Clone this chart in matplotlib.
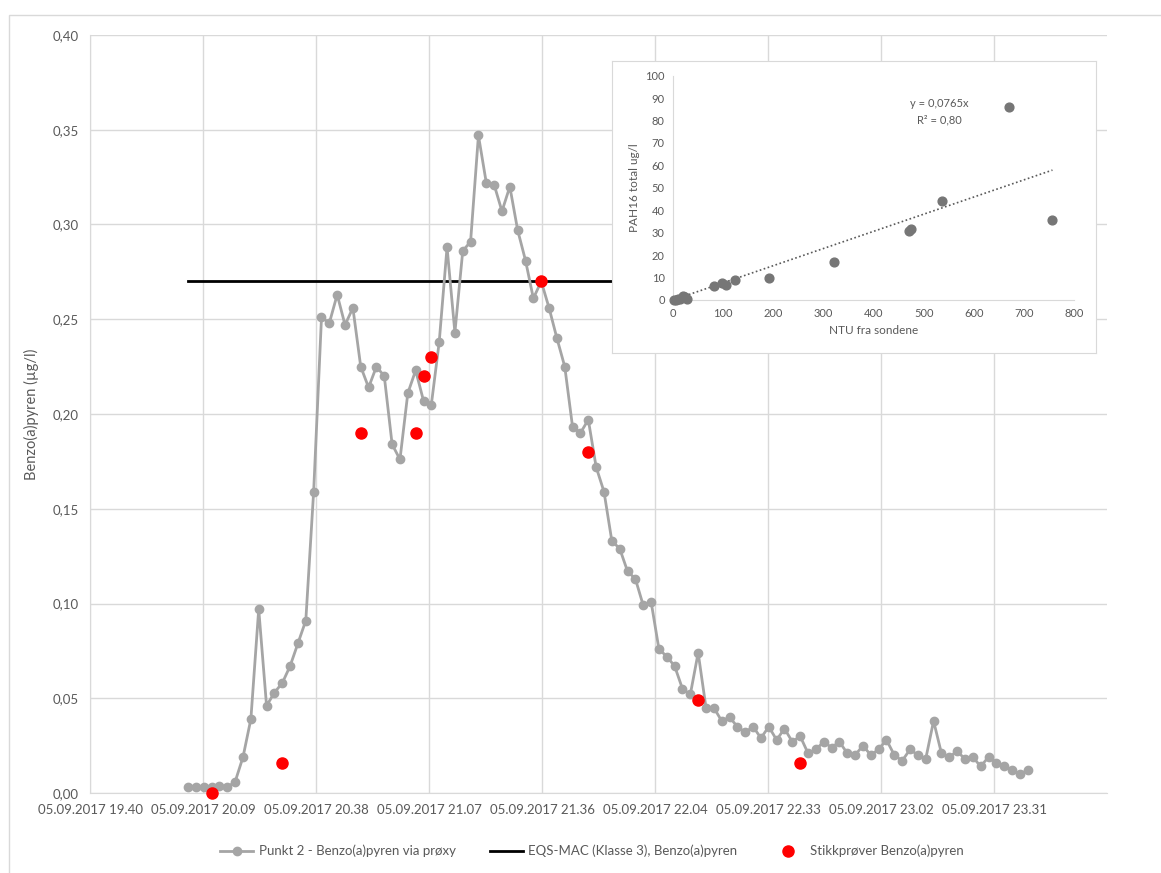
import numpy as np
import matplotlib.pyplot as plt
from matplotlib.lines import Line2D

plt.rcParams['font.family'] = ['Lato', 'DejaVu Sans']

# minutter etter 05.09.2017 19.40
tick_labels = ["05.09.2017 19.40", "05.09.2017 20.09", "05.09.2017 20.38",
               "05.09.2017 21.07", "05.09.2017 21.36", "05.09.2017 22.04",
               "05.09.2017 22.33", "05.09.2017 23.02", "05.09.2017 23.31"]
tick_step = 28.8
start_min = 25      # 20.05
step_min = 2

# Punkt 2 - Benzo(a)pyren via prøxy (µg/l), hvert 2. minutt
bap_proxy = [0.003, 0.003, 0.003, 0.003, 0.0035, 0.003, 0.006, 0.019, 0.039, 0.097,
             0.046, 0.053, 0.058, 0.067, 0.079, 0.091, 0.159, 0.251, 0.248, 0.263,
             0.247, 0.256, 0.225, 0.214, 0.225, 0.220, 0.184, 0.176, 0.211, 0.223,
             0.207, 0.205, 0.238, 0.288, 0.243, 0.286, 0.291, 0.347, 0.322, 0.321,
             0.307, 0.320, 0.297, 0.281, 0.261, 0.270, 0.256, 0.240, 0.225, 0.193,
             0.190, 0.197, 0.172, 0.159, 0.133, 0.129, 0.117, 0.113, 0.099, 0.101,
             0.076, 0.072, 0.067, 0.055, 0.052, 0.074, 0.045, 0.045, 0.038, 0.040,
             0.035, 0.032, 0.035, 0.029, 0.035, 0.028, 0.034, 0.027, 0.030, 0.021,
             0.023, 0.027, 0.024, 0.027, 0.021, 0.020, 0.025, 0.020, 0.023, 0.028,
             0.020, 0.017, 0.023, 0.020, 0.018, 0.038, 0.021, 0.019, 0.022, 0.018,
             0.019, 0.014, 0.019, 0.016, 0.014, 0.012, 0.010, 0.012]

# Stikkprøver
sample_min = [31, 49, 69, 83, 85, 87, 115, 127, 155, 181]
sample_val = [0.0, 0.016, 0.19, 0.19, 0.22, 0.23, 0.27, 0.18, 0.049, 0.016]

eqs_mac = 0.27

# innfelt: NTU mot PAH16
ntu = [2, 5, 9, 14, 20, 23, 27, 81, 97, 106, 123, 192, 322, 470, 474, 536, 670, 757]
pah16 = [0.1, 0.0, 0.3, 0.6, 1.6, 1.2, 0.4, 6.3, 7.4, 6.6, 9.1, 9.7, 16.8, 30.8,
         31.8, 44.0, 85.9, 35.8]
slope = 0.0765

txt = '#595959'
grid = '#D9D9D9'
W, H = 1161, 873

t = start_min + step_min * np.arange(len(bap_proxy))

fig = plt.figure(figsize=(W / 100, H / 100), dpi=100)

# ramme rundt hele diagrammet
fig.add_artist(plt.Rectangle((9 / W, -0.01), 1.1, 1 - 15 / H + 0.01,
                             transform=fig.transFigure, fill=False,
                             edgecolor=grid, lw=1))

ax = fig.add_axes([90 / W, 1 - 793 / H, (1107 - 90) / W, (793 - 35) / H])
ax.plot(t, bap_proxy, color='#A5A5A5', lw=2, marker='o', ms=6, zorder=3,
        clip_on=False)
ax.plot([t[0], t[-1]], [eqs_mac, eqs_mac], color='black', lw=2, zorder=2)
ax.plot(sample_min, sample_val, 'o', color='#FF0000', ms=8, zorder=4,
        clip_on=False)

ax.set_xlim(0, tick_step * 9)
ax.set_ylim(0, 0.4)
ax.set_xticks([tick_step * i for i in range(len(tick_labels))])
ax.set_xticklabels(tick_labels)
yt = np.arange(0, 0.41, 0.05)
ax.set_yticks(yt)
ax.set_yticklabels([f"{v:.2f}".replace('.', ',') for v in yt])
ax.tick_params(length=0, colors=txt, labelsize=9.5, pad=8)
ax.grid(True, color=grid, lw=1)
ax.set_axisbelow(True)
for s in ['top', 'right']:
    ax.spines[s].set_visible(False)
for s in ['left', 'bottom']:
    ax.spines[s].set_color(grid)
ax.set_ylabel("Benzo(a)pyren (µg/l)", color=txt, fontsize=10.5, labelpad=10)

handles = [
    Line2D([], [], color='#A5A5A5', lw=2, marker='o', ms=6),
    Line2D([], [], color='black', lw=2),
    Line2D([], [], color='#FF0000', lw=0, marker='o', ms=8),
]
labels = ["Punkt 2 - Benzo(a)pyren via prøxy", "EQS-MAC (Klasse 3), Benzo(a)pyren",
          "Stikkprøver Benzo(a)pyren"]
fig.legend(handles, labels, loc='center', bbox_to_anchor=(592 / W, 1 - 851 / H),
           ncol=3, frameon=False, fontsize=9.5, labelcolor=txt,
           handlelength=2.5, handletextpad=0.4, columnspacing=2.6)

# innfelt boks
box = fig.add_axes([612 / W, 1 - 353 / H, (1096 - 612) / W, (353 - 61) / H])
box.set_xticks([])
box.set_yticks([])
for s in box.spines.values():
    s.set_color(grid)

ins = fig.add_axes([673 / W, 1 - 300 / H, (1074 - 673) / W, (300 - 75.7) / H])
ins.patch.set_alpha(0)
ins.scatter(ntu, pah16, s=40, color='#767676', zorder=3, clip_on=False)
xs = np.array([0, max(ntu)])
ins.plot(xs, slope * xs, ls=(0, (1, 1.5)), color='#595959', lw=1.2)
ins.set_xlim(0, 800)
ins.set_ylim(0, 100)
ins.set_xticks(range(0, 801, 100))
ins.set_yticks(range(0, 101, 10))
ins.tick_params(length=0, colors=txt, labelsize=8, pad=6)
for s in ['top', 'right']:
    ins.spines[s].set_visible(False)
for s in ['left', 'bottom']:
    ins.spines[s].set_color(grid)
ins.set_xlabel("NTU fra sondene", color=txt, fontsize=8.5)
ins.set_ylabel("PAH16 total ug/l", color=txt, fontsize=8.5)
ins.text(532, 84, "y = 0,0765x\nR² = 0,80", color=txt, fontsize=8,
         ha='center', va='center', linespacing=1.6)

fig.savefig('out.png', dpi=100)
